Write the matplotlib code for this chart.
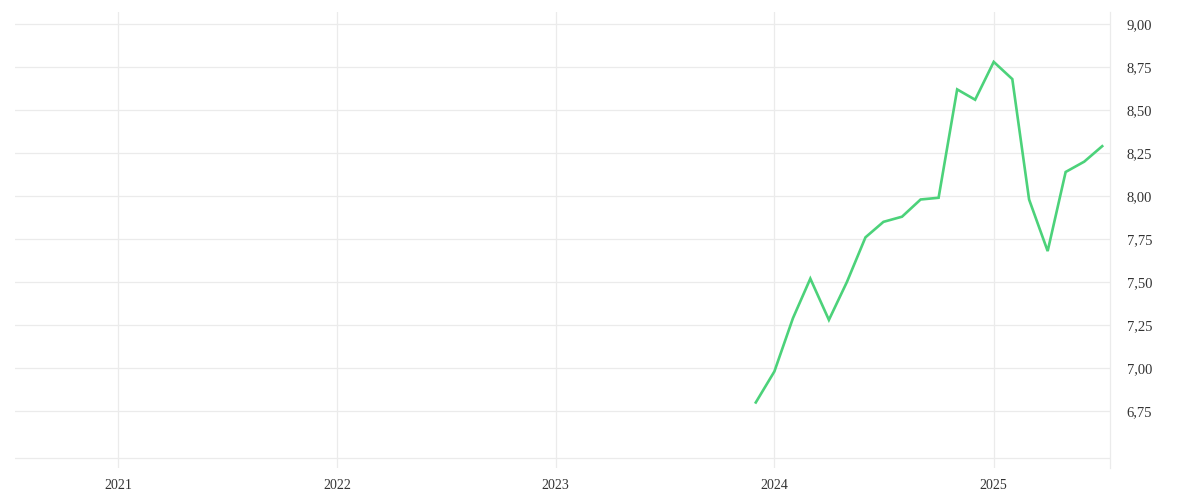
import pandas as pd
import matplotlib.pyplot as plt
import matplotlib.dates as mdates
from matplotlib.ticker import FuncFormatter

months = pd.date_range('2023-12-01', '2025-07-01', freq='MS')
values = [6.80, 6.98, 7.29, 7.52, 7.28, 7.50, 7.76, 7.85, 7.88, 7.98,
          7.99, 8.62, 8.56, 8.78, 8.68, 7.98, 7.68, 8.14, 8.20, 8.29]
year_ticks = pd.to_datetime(['2021-01-01', '2022-01-01', '2023-01-01',
                             '2024-01-01', '2025-01-01'])
y_ticks = [6.75, 7.00, 7.25, 7.50, 7.75, 8.00, 8.25, 8.50, 8.75, 9.00]

grid_col = '#ebebeb'
text_col = '#333333'
plt.rcParams['font.family'] = ['Liberation Serif', 'DejaVu Serif']

fig = plt.figure(figsize=(12, 5), dpi=100)
ax = fig.add_axes([0.0125, 0.064, 0.9125, 0.912])

ax.plot(months, values, color='#4cd27a', linewidth=1.9, solid_joinstyle='miter')

ax.set_xlim(pd.Timestamp('2020-07-13'), pd.Timestamp('2025-07-14'))
ax.set_ylim(6.419, 9.07)
ax.axhline(6.477, color=grid_col, linewidth=0.9, zorder=0)

ax.set_xticks(year_ticks)
ax.xaxis.set_major_formatter(mdates.DateFormatter('%Y'))
ax.set_yticks(y_ticks)
ax.yaxis.set_major_formatter(FuncFormatter(lambda v, p: f'{v:.2f}'.replace('.', ',')))
ax.yaxis.tick_right()

ax.grid(True, color=grid_col, linewidth=0.9)
ax.set_axisbelow(True)
ax.tick_params(axis='x', length=0, pad=8, labelsize=10, labelcolor=text_col)
ax.tick_params(axis='y', length=0, pad=12, labelsize=10.5, labelcolor=text_col)

for s in ['top', 'left', 'bottom']:
    ax.spines[s].set_visible(False)
ax.spines['right'].set_color(grid_col)
ax.spines['right'].set_linewidth(0.9)

fig.savefig('out.png', dpi=100)
